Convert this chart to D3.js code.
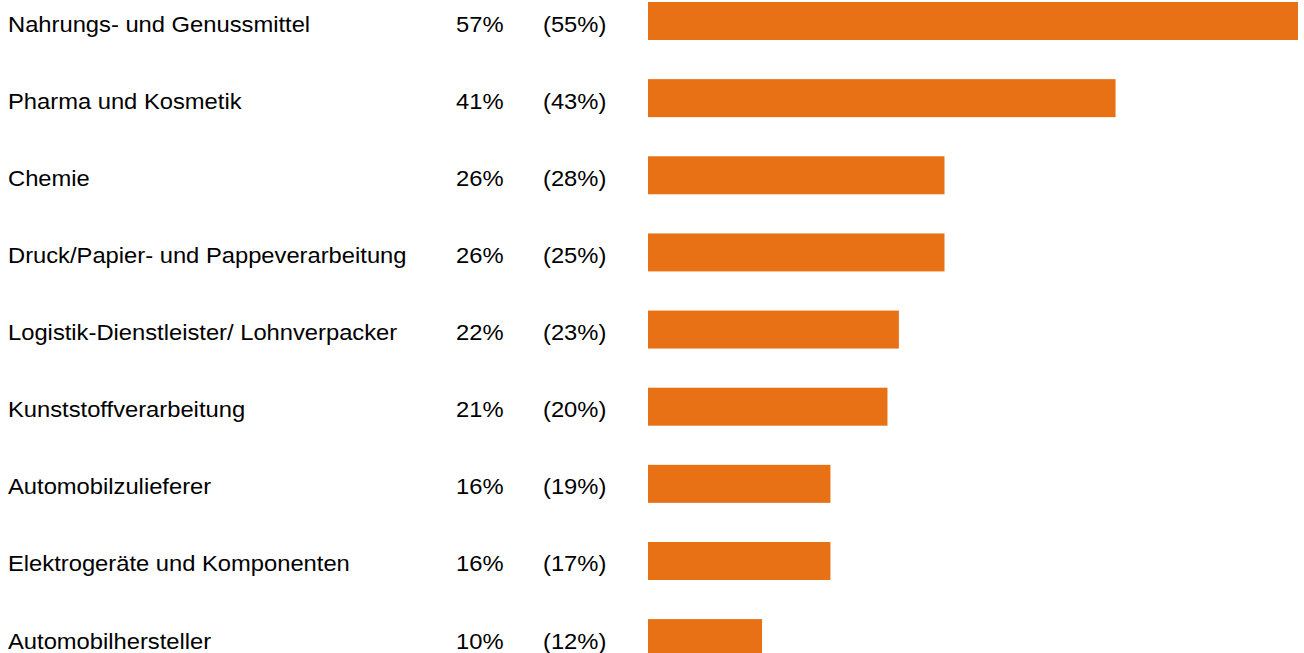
<!DOCTYPE html>
<html>
<head>
<meta charset="utf-8">
<script src="https://cdn.jsdelivr.net/npm/d3@7"></script>
<style>
  html, body { margin: 0; padding: 0; background: #fff; }
  svg { display: block; }
  text { font-family: "Liberation Sans", Arial, sans-serif; font-size: 22px; fill: #000; }
</style>
</head>
<body>
<svg id="chart" width="1304" height="653"></svg>
<script>
// Branchen: aktueller Anteil und Vorjahreswert in Klammern
const categories = [
  "Nahrungs- und Genussmittel",
  "Pharma und Kosmetik",
  "Chemie",
  "Druck/Papier- und Pappeverarbeitung",
  "Logistik-Dienstleister/ Lohnverpacker",
  "Kunststoffverarbeitung",
  "Automobilzulieferer",
  "Elektrogeräte und Komponenten",
  "Automobilhersteller"
];
const currentValues = [57, 41, 26, 26, 22, 21, 16, 16, 10];
const previousValues = [55, 43, 28, 25, 23, 20, 19, 17, 12];

const svg = d3.select("#chart");

const x = d3.scaleLinear().domain([0, d3.max(currentValues)]).range([648, 1298]);

const step = 77.14, barH = 38;
const pIn = 1 - barH / step;
const pOut = pIn / 2;
const start = 2 - step * pOut;
const y = d3.scaleBand()
  .domain(categories)
  .range([start, start + categories.length * step])
  .paddingInner(pIn)
  .paddingOuter(pOut);

const rows = svg.selectAll("g.row")
  .data(categories.map((c, i) => ({ c, v: currentValues[i], p: previousValues[i] })))
  .join("g")
  .attr("class", "row");

rows.append("rect")
  .attr("x", x(0))
  .attr("y", d => y(d.c))
  .attr("width", d => x(d.v) - x(0))
  .attr("height", y.bandwidth())
  .attr("fill", "#e97115");

const base = d => y(d.c) + y.bandwidth() / 2 + 10.5;
const stretch = 1.08;

function label(sel, x0, fmt) {
  sel.append("text")
    .attr("transform", d => `translate(${x0},${base(d)}) scale(${stretch},1)`)
    .text(fmt);
}

label(rows, 8, d => d.c);
label(rows, 456, d => d.v + "%");
label(rows, 543, d => "(" + d.p + "%)");
</script>
</body>
</html>
